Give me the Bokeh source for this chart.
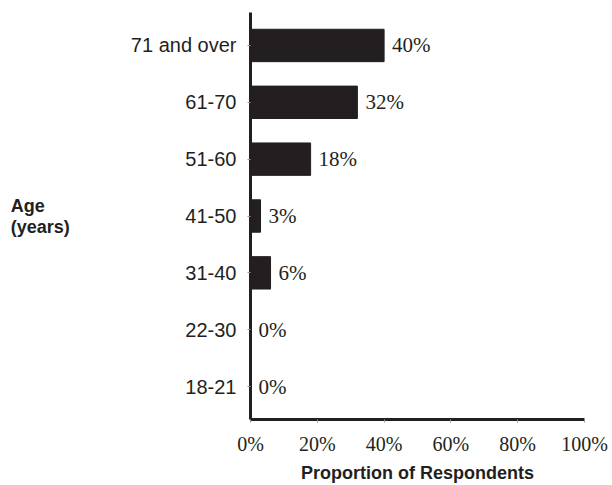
from bokeh.plotting import figure
from bokeh.models import Range1d, FixedTicker, PrintfTickFormatter, ColumnDataSource
from bokeh.core.properties import value
from bokeh.embed import file_html
from bokeh.resources import INLINE

categories = ["18-21", "22-30", "31-40", "41-50", "51-60", "61-70", "71 and over"]
proportions = [0, 0, 6, 3, 18, 32, 40]
x_ticks = [0, 20, 40, 60, 80, 100]
y_title_lines = ["Age", "(years)"]

ypos = list(range(len(categories)))
labels = [f"{v}%" for v in proportions]
src = ColumnDataSource(dict(y=ypos, v=proportions, lab=labels))

DARK = "#231f20"
NBSP = "\u00a0"

p = figure(width=612, height=485, output_backend="svg", toolbar_location=None,
           x_range=Range1d(0, 100), y_range=Range1d(-0.58, 6.58),
           min_border_left=250, min_border_right=28, min_border_top=12, min_border_bottom=65)
p.outline_line_color = None
p.grid.visible = False
p.background_fill_color = "white"
p.border_fill_color = "white"

p.hbar(y="y", right="v", left=0, height=0.57, source=src, fill_color=DARK, line_color=DARK)
p.text(x="v", y="y", text="lab", source=src, x_offset=8, text_baseline="middle", text_align="left",
       text_font=value("Liberation Serif"), text_font_size="21px", text_color=DARK)

# y axis
ya = p.yaxis[0]
ya.ticker = FixedTicker(ticks=ypos)
ya.major_label_overrides = {i: c for i, c in enumerate(categories)}
ya.axis_line_width = 3
ya.axis_line_color = DARK
ya.major_tick_out = 3
ya.major_tick_in = 0
ya.major_tick_line_color = "#999999"
ya.minor_tick_line_color = None
ya.major_label_standoff = 11
ya.major_label_text_font = "Liberation Sans"
ya.major_label_text_font_size = "20px"
ya.major_label_text_color = DARK
# left-align the two title lines (pad the short one with no-break spaces)
ya.axis_label = y_title_lines[0] + NBSP * 5 + "\n" + y_title_lines[1]
ya.axis_label_orientation = "horizontal"
ya.axis_label_text_font = "Liberation Sans"
ya.axis_label_text_font_style = "bold"
ya.axis_label_text_font_size = "18px"
ya.axis_label_text_line_height = 1.05
ya.axis_label_text_color = DARK
ya.axis_label_standoff = 58

# x axis
xa = p.xaxis[0]
xa.ticker = FixedTicker(ticks=x_ticks)
xa.formatter = PrintfTickFormatter(format="%d%%")
xa.axis_line_width = 3
xa.axis_line_color = DARK
xa.major_tick_out = 3
xa.major_tick_in = 0
xa.major_tick_line_color = "#999999"
xa.minor_tick_line_color = None
xa.major_label_standoff = 10
xa.major_label_text_font = "Liberation Serif"
xa.major_label_text_font_size = "20px"
xa.major_label_text_color = DARK
xa.axis_label = "Proportion of Respondents"
xa.axis_label_text_font = "Liberation Sans"
xa.axis_label_text_font_style = "bold"
xa.axis_label_text_font_size = "18px"
xa.axis_label_text_line_height = 1.0
xa.axis_label_text_color = DARK
xa.axis_label_standoff = 5

open("out.html", "w").write(file_html(p, INLINE))
